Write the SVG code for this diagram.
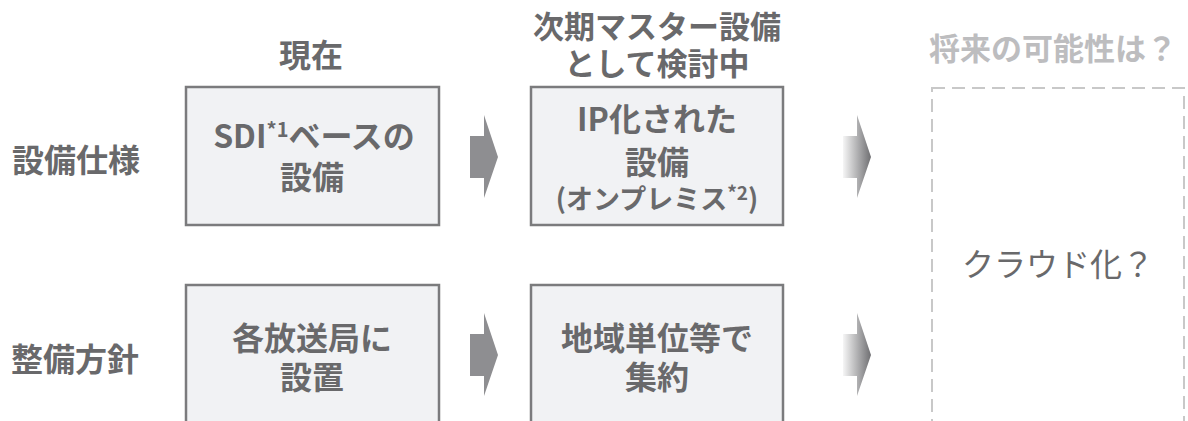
<svg xmlns="http://www.w3.org/2000/svg" width="1188" height="421" viewBox="0 0 1188 421">
  <defs>
    <style>
      text { font-family: "Noto Sans CJK JP", "Noto Sans", sans-serif; fill: #69696b; }
      .b { font-weight: 700; }
      .lbl { font-size: 32px; }
      .head { font-size: 31px; text-anchor: middle; }
      .txt { font-size: 32px; text-anchor: middle; }
      .small { font-size: 27px; }
      .box { fill: #f1f2f4; stroke: #7b7b7d; stroke-width: 2.5; }
      .arrow { fill: #8e8e91; }
      .future { fill: none; stroke: #c8c8c8; stroke-width: 2; stroke-dasharray: 13 7; }
    </style>
    <linearGradient id="fade" gradientUnits="userSpaceOnUse" x1="843" y1="0" x2="871" y2="0">
      <stop offset="0" stop-color="#f6f6f6"/>
      <stop offset="1" stop-color="#6f6f72"/>
    </linearGradient>
  </defs>
  <rect width="1188" height="421" fill="#ffffff"/>

  <g id="row-labels">
    <text class="lbl b" x="12" y="172">設備仕様</text>
    <text class="lbl b" x="11" y="371">整備方針</text>
  </g>

  <g id="column-headers">
    <text class="head b" x="311" y="67" style="font-size:32px">現在</text>
    <text class="head b" x="657" y="38">次期マスター設備<tspan x="657" dy="37">として検討中</tspan></text>
    <text class="head b" x="1053" y="60" style="fill:#bdbdbf">将来の可能性は？</text>
  </g>

  <g id="node-sdi">
    <rect class="box" x="186" y="87" width="253" height="138"/>
    <text class="txt b" x="314" y="148">SDI<tspan font-size="20" dy="-11">*1</tspan><tspan dy="11">ベースの</tspan><tspan x="312" dy="41">設備</tspan></text>
  </g>

  <g id="node-ip">
    <rect class="box" x="531" y="87" width="252" height="138"/>
    <text class="txt b" x="657" y="131">IP化された<tspan x="657" dy="43">設備</tspan><tspan x="657" dy="35" class="small">(オンプレミス<tspan font-size="19" dy="-9">*2</tspan><tspan dy="9">)</tspan></tspan></text>
  </g>

  <g id="node-local">
    <rect class="box" x="186" y="285" width="253" height="150"/>
    <text class="txt b" x="312" y="350">各放送局に<tspan x="312" dy="39">設置</tspan></text>
  </g>

  <g id="node-regional">
    <rect class="box" x="531" y="285" width="252" height="150"/>
    <text class="txt b" x="657" y="350">地域単位等で<tspan x="657" dy="39">集約</tspan></text>
  </g>

  <g id="node-cloud">
    <rect class="future" x="932" y="88" width="252" height="350"/>
    <text x="1058" y="276" style="font-size:32px;text-anchor:middle">クラウド化？</text>
  </g>

  <g id="connectors">
    <polygon class="arrow" points="470,136 484,136 484,115 498,157 484,198 484,178 470,178"/>
    <polygon class="arrow" points="470,334 484,334 484,313 498,355 484,396 484,376 470,376"/>
    <polygon fill="url(#fade)" points="843,136 857,136 857,115 871,157 857,198 857,178 843,178"/>
    <polygon fill="url(#fade)" points="843,334 857,334 857,313 871,355 857,396 857,376 843,376"/>
  </g>
</svg>
